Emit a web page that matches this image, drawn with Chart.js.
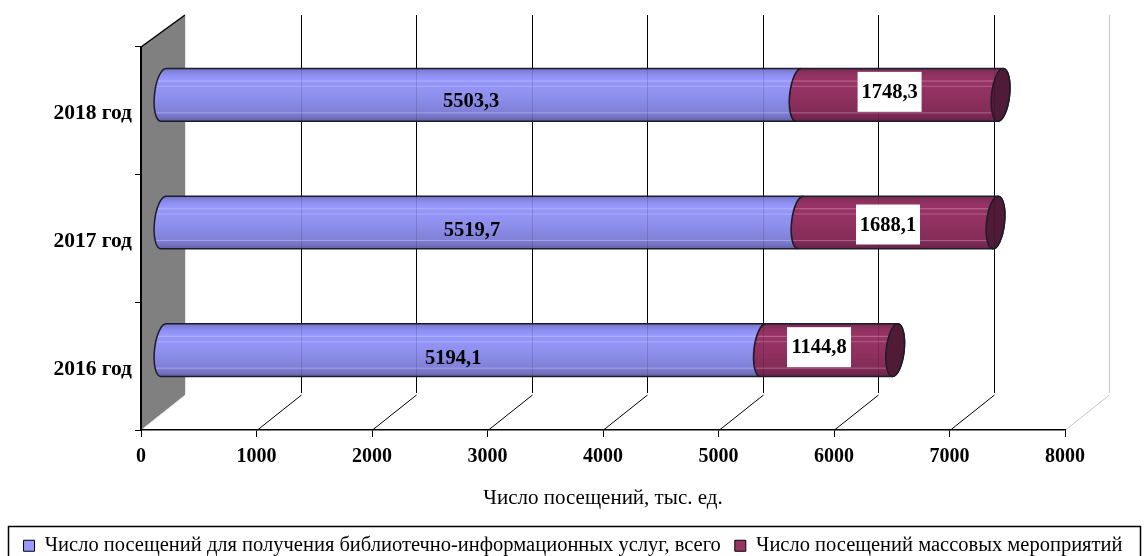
<!DOCTYPE html>
<html>
<head>
<meta charset="utf-8">
<style>
  html, body { margin: 0; padding: 0; background: #fff; }
  canvas { display: block; }
</style>
<script src="https://cdn.jsdelivr.net/npm/chart.js@4/dist/chart.umd.min.js"></script>
</head>
<body>
<canvas id="chart" width="1146" height="556"></canvas>
<script>
// Data
const years = ['2018 год', '2017 год', '2016 год'];
const infoVisits = [5503.3, 5519.7, 5194.1];
const eventVisits = [1748.3, 1688.1, 1144.8];
const seriesNames = [
  'Число посещений для получения библиотечно-информационных услуг, всего',
  'Число посещений массовых мероприятий'
];
const axisTitle = 'Число посещений, тыс. ед.';

const FONT = '"Liberation Serif", "Times New Roman", serif';
const DEPTH_X = 44, DEPTH_Y = -35;       // back wall offset from the front plane
const BAR_X = 22, BAR_Y = -16;           // bars sit half way into the depth
const CAP_RX = 9, CAP_TILT = 0.11;

// hand placed value labels, relative to the centre of their segment
const labelDy = [[6, 7, 8], [-3, 2, -3]];
const labelDx = -10;

const blueStops = [[0, '#6f6fc4'], [0.06, '#8282dc'], [0.14, '#9090f2'], [0.22, '#9999ff'], [0.24, '#b0b0ff'], [0.26, '#9696fa'],
  [0.32, '#9494f6'], [0.34, '#aaaaff'], [0.36, '#9494f6'], [0.55, '#8e8eec'], [0.75, '#8484dc'], [0.82, '#8080d6'],
  [0.84, '#a0a0ee'], [0.86, '#7c7cd0'], [0.93, '#7272bc'], [1, '#5f5fa4']];
const wineStops = [[0, '#6c2a4c'], [0.06, '#843058'], [0.14, '#933262'], [0.22, '#993366'], [0.24, '#b56a90'], [0.26, '#973365'],
  [0.32, '#973365'], [0.34, '#ad5c84'], [0.36, '#953264'], [0.55, '#8f305f'], [0.75, '#862d59'], [0.82, '#832c57'],
  [0.84, '#a7608a'], [0.86, '#802a55'], [0.93, '#752750'], [1, '#642244']];

function cylinderFill(stops) {
  return function (context) {
    const chart = context.chart;
    const centre = chart.scales.y ? chart.scales.y.getPixelForTick(context.dataIndex) : NaN;
    if (!Number.isFinite(centre)) return stops[8][1];
    const half = 0.415 * chart.scales.y.height / years.length / 2;
    const g = chart.ctx.createLinearGradient(0, centre - half, 0, centre + half);
    stops.forEach(s => g.addColorStop(s[0], s[1]));
    return g;
  };
}

// Outline of one cylinder segment. The left side always bulges out. The right
// side bulges only on the last segment, the inner one follows the next segment's edge.
function segmentPath(path, el, roundEnd) {
  const ry = el.height / 2;
  path.ellipse(el.base, el.y, CAP_RX, ry, CAP_TILT, Math.PI / 2, Math.PI * 1.5, false);
  if (roundEnd) {
    path.ellipse(el.x, el.y, CAP_RX, ry, CAP_TILT, -Math.PI / 2, Math.PI / 2, false);
  } else {
    path.ellipse(el.x, el.y, CAP_RX, ry, CAP_TILT, Math.PI * 1.5, Math.PI / 2, true);
  }
  path.closePath();
}

const cylinderPlugin = {
  id: 'cylinder',
  // grey wall and back plane grid go under everything
  beforeDraw(chart) {
    const { ctx, chartArea: a, scales: { x } } = chart;
    ctx.save();
    ctx.fillStyle = '#808080';
    ctx.beginPath();
    ctx.moveTo(a.left, a.top);
    ctx.lineTo(a.left + DEPTH_X, a.top - 32);
    ctx.lineTo(a.left + DEPTH_X, a.bottom + DEPTH_Y);
    ctx.lineTo(a.left, a.bottom);
    ctx.closePath();
    ctx.fill();
    ctx.strokeStyle = '#000';
    ctx.lineWidth = 1.5;
    ctx.beginPath();
    ctx.moveTo(a.left, a.top);
    ctx.lineTo(a.left + DEPTH_X, a.top - 32);
    ctx.stroke();
    ctx.lineWidth = 1;
    x.ticks.forEach((t, i) => {
      const px = Math.round(x.getPixelForTick(i)) + 0.5;
      const last = i === x.ticks.length - 1;
      ctx.strokeStyle = i === 0 ? '#e4e4e4' : last ? '#c8c8c8' : '#000';
      ctx.beginPath();
      ctx.moveTo(px, a.bottom);
      ctx.lineTo(px + DEPTH_X, a.bottom + DEPTH_Y);
      ctx.stroke();
      ctx.beginPath();
      ctx.moveTo(px + DEPTH_X, a.bottom + DEPTH_Y - 2);
      ctx.lineTo(px + DEPTH_X, a.top - 32);
      ctx.stroke();
    });
    ctx.restore();
  },
  beforeDatasetDraw(chart, args) {
    const { ctx } = chart;
    ctx.save();
    ctx.translate(BAR_X, BAR_Y);
    // keep the square bar corners inside the round silhouette
    const clip = new Path2D();
    args.meta.data.forEach(el => {
      const p = new Path2D();
      segmentPath(p, el, args.index === 1);
      clip.addPath(p);
    });
    ctx.clip(clip);
  },
  afterDatasetDraw(chart, args) {
    const { ctx } = chart;
    ctx.restore();
    ctx.save();
    ctx.translate(BAR_X, BAR_Y);
    args.meta.data.forEach(el => {
      ctx.beginPath();
      segmentPath(ctx, el, args.index === 1);
      ctx.fillStyle = el.options.backgroundColor;
      ctx.fill();
      ctx.strokeStyle = '#1c1c2c';
      ctx.lineWidth = 1.5;
      ctx.stroke();
      if (args.index === 1) {
        ctx.beginPath();
        ctx.ellipse(el.x, el.y, CAP_RX, el.height / 2, CAP_TILT, 0, Math.PI * 2);
        ctx.fillStyle = '#4f1b36';
        ctx.fill();
        ctx.stroke();
      }
    });
    ctx.restore();
  },
  afterDatasetsDraw(chart) {
    const { ctx, scales: { x } } = chart;
    ctx.save();
    // grid shows faintly through the bars
    ctx.strokeStyle = 'rgba(0,0,0,0.13)';
    ctx.lineWidth = 1;
    x.ticks.forEach((t, i) => {
      if (i === 0 || i === x.ticks.length - 1) return;
      const px = Math.round(x.getPixelForTick(i)) + 0.5 + DEPTH_X;
      chart.getDatasetMeta(1).data.forEach(el => {
        if (px > el.x + BAR_X) return;
        ctx.beginPath();
        ctx.moveTo(px, el.y + BAR_Y - el.height / 2);
        ctx.lineTo(px, el.y + BAR_Y + el.height / 2);
        ctx.stroke();
      });
    });
    ctx.font = 'bold 20.5px ' + FONT;
    ctx.textAlign = 'center';
    ctx.textBaseline = 'middle';
    chart.data.datasets.forEach((ds, di) => {
      chart.getDatasetMeta(di).data.forEach((el, i) => {
        const cx = (el.base + el.x) / 2 + BAR_X + labelDx;
        const cy = el.y + BAR_Y + labelDy[di][i];
        const text = ds.data[i].toFixed(1).replace('.', ',');
        if (di === 1) {
          ctx.fillStyle = '#fff';
          ctx.fillRect(cx - 32, cy - 20, 64, 40);
        }
        ctx.fillStyle = '#000';
        ctx.fillText(text, cx, cy + 1);
      });
    });
    ctx.restore();
  },
  afterDraw(chart) {
    const { ctx } = chart;
    ctx.save();
    ctx.strokeStyle = '#000';
    ctx.lineWidth = 1.5;
    ctx.strokeRect(8.5, 526.5, 1132, 40);
    ctx.restore();
  }
};

new Chart(document.getElementById('chart'), {
  type: 'bar',
  data: {
    labels: years,
    datasets: [
      { label: seriesNames[0], data: infoVisits, backgroundColor: cylinderFill(blueStops), clip: false },
      { label: seriesNames[1], data: eventVisits, backgroundColor: cylinderFill(wineStops), clip: false }
    ]
  },
  plugins: [cylinderPlugin],
  options: {
    indexAxis: 'y',
    responsive: false,
    animation: false,
    barPercentage: 0.415,
    categoryPercentage: 1,
    // negative bottom lets the legend row sit lower, its box runs off the page as in the source
    layout: { padding: { top: 47, right: 0, left: 0, bottom: -10 } },
    scales: {
      x: {
        stacked: true,
        min: 0,
        max: 8000,
        afterFit: s => { s.height = 91.5; },
        grid: { drawOnChartArea: false, color: '#000', tickLength: 7 },
        border: { color: '#000', width: 1.5 },
        ticks: {
          stepSize: 1000,
          maxRotation: 0,
          autoSkip: false,
          padding: 8,
          color: '#000',
          font: { family: FONT, size: 20, weight: 'bold' },
          callback: v => String(v)
        },
        title: {
          display: true,
          text: axisTitle,
          color: '#000',
          font: { family: FONT, size: 21 },
          padding: { top: 14, bottom: 10 }
        }
      },
      y: {
        stacked: true,
        afterFit: s => { s.width = 141; },
        grid: { drawOnChartArea: false, color: '#000', tickLength: 6 },
        border: { color: '#000', width: 2 },
        ticks: {
          padding: 3,
          labelOffset: 3,
          color: '#000',
          font: { family: FONT, size: 21.5, weight: 'bold' }
        }
      },
      // empty axis, only reserves the space right of the plot so the legend keeps full width
      spacer: {
        axis: 'y',
        type: 'linear',
        position: 'right',
        min: 0,
        max: 1,
        afterFit: s => { s.width = 81; },
        grid: { display: false },
        border: { display: false },
        ticks: { display: false }
      }
    },
    plugins: {
      tooltip: { enabled: false },
      legend: {
        position: 'bottom',
        labels: {
          color: '#000',
          boxWidth: 11,
          boxHeight: 11,
          padding: 14,
          font: { family: FONT, size: 20.5 },
          generateLabels: () => seriesNames.map((name, i) => ({
            text: name,
            fillStyle: ['#9999ff', '#993366'][i],
            strokeStyle: '#000',
            lineWidth: 1,
            datasetIndex: i,
            hidden: false
          }))
        }
      }
    }
  }
});
</script>
</body>
</html>
